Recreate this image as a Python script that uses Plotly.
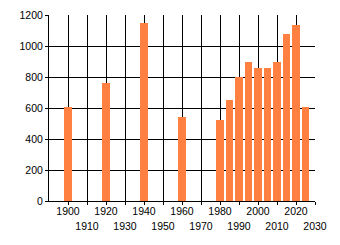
import plotly.graph_objects as go

years = [1900, 1920, 1940, 1960, 1980, 1985, 1990, 1995, 2000, 2005, 2010, 2015, 2020, 2025]
values = [605, 760, 1150, 545, 525, 650, 800, 900, 855, 860, 900, 1080, 1135, 605]

x_tick_vals = list(range(1900, 2031, 10))
row1_vals = [v for v in x_tick_vals if (v // 10) % 2 == 0]
row2_vals = [v for v in x_tick_vals if (v // 10) % 2 == 1]
y_tick_vals = [0, 200, 400, 600, 800, 1000, 1200]

fig = go.Figure(go.Bar(x=years, y=values, width=3.9, marker=dict(color="#FF8040", line=dict(width=0))))
# invisible helper trace for the second row of year labels
fig.add_trace(go.Scatter(x=[1890], y=[0], xaxis="x2", mode="markers", marker=dict(opacity=0), hoverinfo="skip"))

fig.update_layout(
    width=340, height=245,
    margin=dict(l=49, r=25, t=15, b=44),
    plot_bgcolor="white", paper_bgcolor="white",
    font=dict(family="Liberation Sans, Arial, sans-serif", size=10.5, color="#000000"),
    showlegend=False,
    bargap=0,
    xaxis=dict(
        range=[1890, 2030], tickvals=x_tick_vals,
        ticktext=[str(v) if v in row1_vals else "" for v in x_tick_vals], tickangle=0,
        showgrid=True, gridcolor="black", gridwidth=1,
        showline=True, linecolor="black", linewidth=1,
        ticks="outside", ticklen=3, tickcolor="black", zeroline=False, automargin=False,
        ticklabelstandoff=-3,
    ),
    xaxis2=dict(
        overlaying="x", anchor="y", side="bottom",
        range=[1890, 2030], tickvals=row2_vals, ticktext=[str(v) for v in row2_vals], tickangle=0,
        showgrid=False, showline=False, ticks="", zeroline=False, automargin=False,
        ticklabelstandoff=17,
    ),
    yaxis=dict(
        range=[0, 1200], tickvals=y_tick_vals,
        showgrid=True, gridcolor="black", gridwidth=1,
        showline=True, linecolor="black", linewidth=1,
        ticks="outside", ticklen=3, tickcolor="black", zeroline=False, automargin=False,
    ),
)

fig.write_html("out.html", config={"displayModeBar": False})
